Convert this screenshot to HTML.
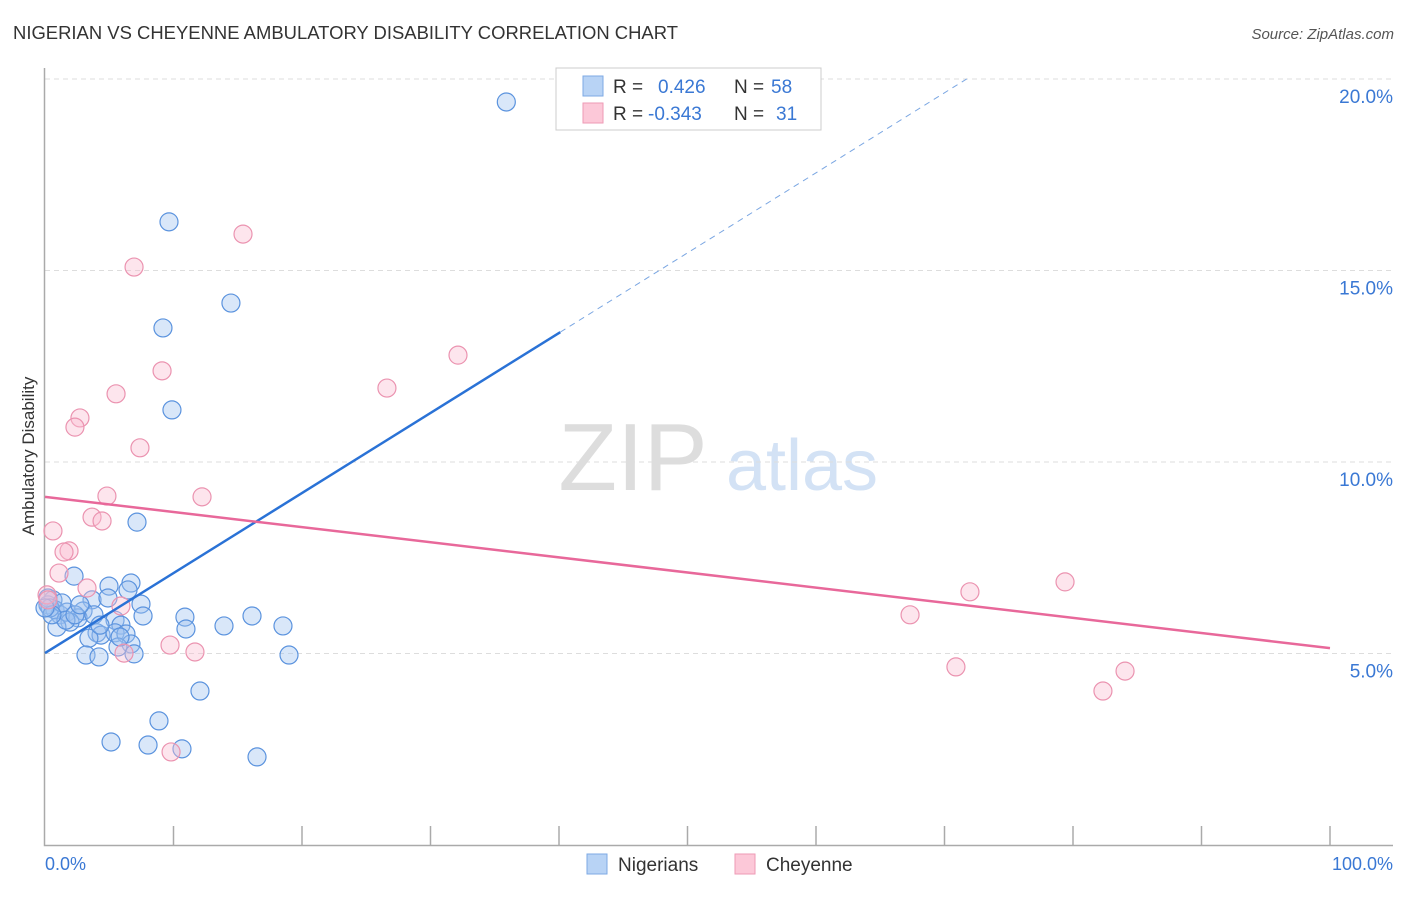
<!DOCTYPE html>
<html><head><meta charset="utf-8"><style>
body{margin:0;background:#fff;font-family:"Liberation Sans",sans-serif}
svg text{font-family:"Liberation Sans",sans-serif}
</style></head><body>
<svg id="chart" width="1406" height="892" xmlns="http://www.w3.org/2000/svg">
<text x="13" y="39" font-size="18.5" fill="#333" textLength="665" lengthAdjust="spacingAndGlyphs">NIGERIAN VS CHEYENNE AMBULATORY DISABILITY CORRELATION CHART</text>
<text x="1394" y="39" font-size="15" fill="#555" text-anchor="end" font-style="italic">Source: ZipAtlas.com</text>
<text transform="translate(34,456) rotate(-90)" font-size="17" fill="#333" text-anchor="middle">Ambulatory Disability</text>
<g>
<text x="633" y="490" font-size="96" fill="#ddd" font-family="Liberation Serif" text-anchor="middle">ZIP</text>
<text x="802" y="490" font-size="72" fill="#d3e2f5" text-anchor="middle">atlas</text>
</g>
<g id="grid"></g>
<g id="axes"></g>
<g id="marks"></g>
<g>
<rect x="556" y="68" width="265" height="62" fill="#fff" stroke="#ccc"/>
<rect x="583" y="76" width="20" height="20" fill="#b8d3f5" stroke="#7ea9e4"/>
<rect x="583" y="103" width="20" height="20" fill="#fcc8d8" stroke="#ee9ab5"/>
<text x="613" y="93" font-size="19" fill="#333">R =</text>
<text x="658" y="93" font-size="19" fill="#3a78d4">0.426</text>
<text x="734" y="93" font-size="19" fill="#333">N =</text>
<text x="771" y="93" font-size="19" fill="#3a78d4">58</text>
<text x="613" y="120" font-size="19" fill="#333">R =</text>
<text x="648" y="120" font-size="19" fill="#3a78d4">-0.343</text>
<text x="734" y="120" font-size="19" fill="#333">N =</text>
<text x="776" y="120" font-size="19" fill="#3a78d4">31</text>
</g>
<g>
<rect x="587" y="854" width="20" height="20" fill="#b8d3f5" stroke="#7ea9e4"/>
<text x="618" y="871" font-size="19" fill="#333">Nigerians</text>
<rect x="735" y="854" width="20" height="20" fill="#fcc8d8" stroke="#ee9ab5"/>
<text x="766" y="871" font-size="19" fill="#333">Cheyenne</text>
</g>
</svg>
<script>
const yTicks=[5,10,15,20];
const xTickLabels=["0.0%","100.0%"];
const nigX=[35.9,9.65,14.47,9.18,9.88,7.16,2.26,4.98,6.69,6.46,3.66,4.90,7.47,0.62,0.23,0.78,1.17,1.71,2.96,2.57,3.81,1.95,0.93,7.63,10.89,10.97,16.11,13.93,18.52,5.45,5.91,4.05,4.36,5.45,6.30,3.42,6.69,5.68,6.93,3.19,4.20,18.99,12.06,8.87,5.14,8.02,10.66,16.50,0.23,0.39,1.32,1.63,4.28,5.84,2.33,2.72,0.54,0];
const nigY=[19.40,16.27,14.15,13.50,11.36,8.43,7.02,6.76,6.84,6.66,6.40,6.45,6.29,6.40,6.27,6.14,6.01,6.08,6.11,5.93,6.01,5.82,5.69,5.98,5.95,5.64,5.98,5.72,5.72,5.87,5.74,5.54,5.48,5.54,5.51,5.40,5.25,5.17,4.99,4.96,4.91,4.96,4.02,3.24,2.69,2.61,2.51,2.30,6.45,6.19,6.32,5.87,5.74,5.43,6.01,6.27,6.01,6.19];
const cheX=[15.41,6.93,32.14,9.11,26.61,5.53,2.72,2.33,7.39,4.82,12.22,0.62,3.66,4.44,1.87,1.48,1.09,3.27,5.91,0.16,79.38,71.98,67.32,9.73,11.67,6.15,70.89,84.05,82.33,9.81,0.23];
const cheY=[15.95,15.09,12.79,12.38,11.93,11.78,11.15,10.91,10.37,9.11,9.09,8.20,8.56,8.46,7.68,7.65,7.10,6.71,6.24,6.53,6.87,6.61,6.01,5.22,5.04,5.01,4.65,4.54,4.02,2.43,6.40];
const nigTrend=[5.01,0.209];
const cheTrend=[9.09,-0.0395];
const NS="http://www.w3.org/2000/svg";
const X=v=>45+v*12.85, Y=v=>845-v*38.3;
function mk(tag,attrs,parent){const e=document.createElementNS(NS,tag);for(const k in attrs)e.setAttribute(k,attrs[k]);document.getElementById(parent).appendChild(e);return e;}
yTicks.forEach(t=>{
 const l=mk('line',{x1:45,x2:1393,y1:Y(t),y2:Y(t),stroke:'#ddd','stroke-dasharray':'5,4'},'grid');
 
 
 const tx=mk('text',{x:1393,y:Y(t)+24,'font-size':19,fill:'#3a78d4','text-anchor':'end'},'grid');
 tx.textContent=t.toFixed(1)+'%';
 
 
});
const topG=mk('line',{x1:45,x2:1393,y1:79,y2:79,stroke:'#ddd','stroke-dasharray':'5,4'},'grid');


const ax=mk('path',{d:'M44.5 68V845.5H1393',fill:'none',stroke:'#aaa','stroke-width':1.5},'axes');


for(let i=1;i<=10;i++){const t=mk('line',{x1:X(i*10),x2:X(i*10),y1:826,y2:845,stroke:'#aaa','stroke-width':1.5},'axes');
 
 }
[[0,45,'start'],[1,1393,'end']].forEach(([i,x,a])=>{const t=mk('text',{x:x,y:870,'font-size':18,fill:'#3a78d4','text-anchor':a},'axes');t.textContent=xTickLabels[i];
 
 });
nigX.forEach((x,i)=>{const c=mk('circle',{cx:X(x),cy:Y(nigY[i]),r:9,fill:'rgba(160,196,240,0.4)',stroke:'#5b93de','stroke-width':1.2},'marks');
 
 });
cheX.forEach((x,i)=>{const c=mk('circle',{cx:X(x),cy:Y(cheY[i]),r:9,fill:'rgba(250,190,210,0.4)',stroke:'#eb93b0','stroke-width':1.2},'marks');
 
 });
const nEnd=40.1, nDash=(20.05-nigTrend[0])/nigTrend[1];
const l1=mk('line',{x1:X(0),y1:Y(nigTrend[0]),x2:X(nEnd),y2:Y(nigTrend[0]+nigTrend[1]*nEnd),stroke:'#2a72d6','stroke-width':2.5},'marks');


const l2=mk('line',{x1:X(nEnd),y1:Y(nigTrend[0]+nigTrend[1]*nEnd),x2:X(nDash),y2:Y(nigTrend[0]+nigTrend[1]*nDash),stroke:'#7aa6e2','stroke-width':1,'stroke-dasharray':'6,5'},'marks');


const l3=mk('line',{x1:X(0),y1:Y(cheTrend[0]),x2:X(100),y2:Y(cheTrend[0]+cheTrend[1]*100),stroke:'#e8689a','stroke-width':2.5},'marks');


</script>
</body></html>
